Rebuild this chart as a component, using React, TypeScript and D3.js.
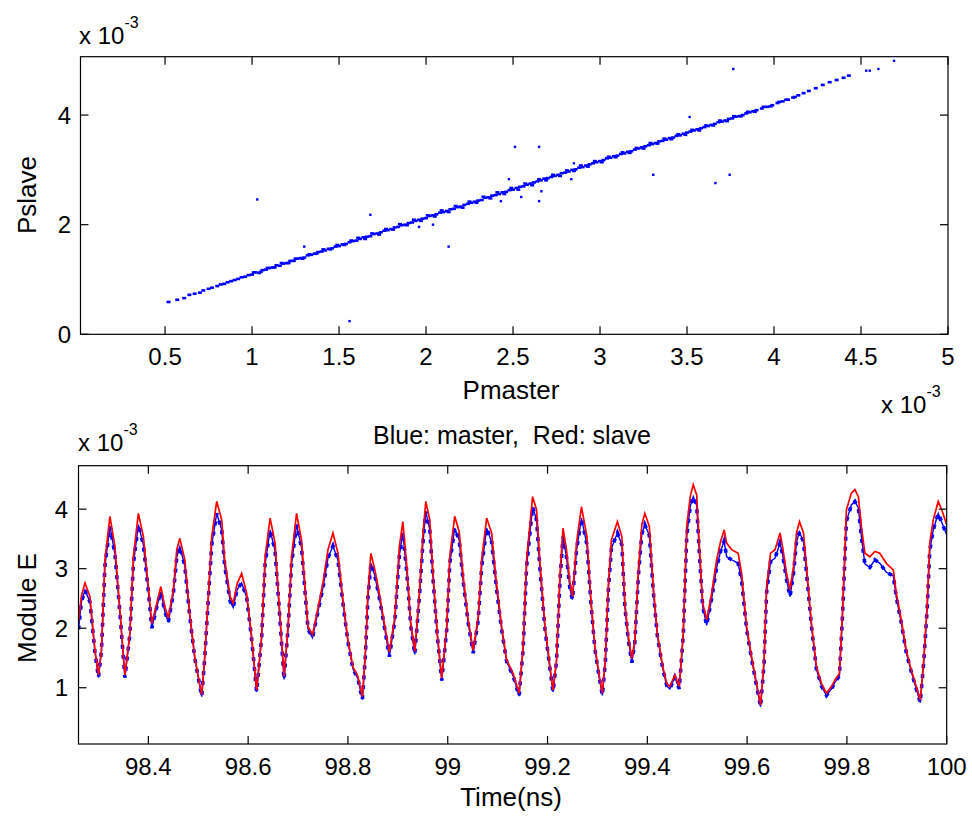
import React from "react";
import * as d3 from "d3";

// ---------- Top panel: Pslave vs Pmaster (x 10^-3) ----------
const pmasterBand = [
  0.52, 0.57, 0.61, 0.64, 0.67, 0.70, 0.72, 0.75, 0.77, 0.80, 0.82, 0.84, 0.86, 0.88, 0.90, 0.92, 0.94, 0.96, 0.98, 1.00,
  1.02, 1.04, 1.06, 1.08, 1.10, 1.12, 1.14, 1.16, 1.18, 1.20, 1.22, 1.24, 1.26, 1.28, 1.30, 1.32, 1.34, 1.36, 1.38, 1.40,
  1.42, 1.44, 1.46, 1.48, 1.50, 1.52, 1.54, 1.56, 1.58, 1.60, 1.62, 1.64, 1.66, 1.68, 1.70, 1.72, 1.74, 1.76, 1.78, 1.80,
  1.82, 1.84, 1.86, 1.88, 1.90, 1.92, 1.94, 1.96, 1.98, 2.00, 2.02, 2.04, 2.06, 2.08, 2.10, 2.12, 2.14, 2.16, 2.18, 2.20,
  2.22, 2.24, 2.26, 2.28, 2.30, 2.32, 2.34, 2.36, 2.38, 2.40, 2.42, 2.44, 2.46, 2.48, 2.50, 2.52, 2.54, 2.56, 2.58, 2.60,
  2.62, 2.64, 2.66, 2.68, 2.70, 2.72, 2.74, 2.76, 2.78, 2.80, 2.82, 2.84, 2.86, 2.88, 2.90, 2.92, 2.94, 2.96, 2.98, 3.00,
  3.02, 3.04, 3.06, 3.08, 3.10, 3.12, 3.14, 3.16, 3.18, 3.20, 3.22, 3.24, 3.26, 3.28, 3.30, 3.32, 3.34, 3.36, 3.38, 3.40,
  3.42, 3.44, 3.46, 3.48, 3.50, 3.52, 3.54, 3.56, 3.58, 3.60, 3.62, 3.64, 3.66, 3.68, 3.70, 3.72, 3.74, 3.76, 3.78, 3.80,
  3.82, 3.84, 3.86, 3.88, 3.90, 3.93, 3.96, 3.99, 4.02, 4.05, 4.08, 4.11, 4.14, 4.17, 4.20, 4.24, 4.28, 4.32, 4.36, 4.40,
  4.43,
];
const pslaveBand = [
  0.59, 0.63, 0.66, 0.72, 0.74, 0.76, 0.80, 0.83, 0.85, 0.88, 0.91, 0.92, 0.95, 0.97, 0.99, 1.01, 1.04, 1.05, 1.08, 1.09,
  1.13, 1.12, 1.17, 1.18, 1.21, 1.22, 1.26, 1.25, 1.29, 1.30, 1.34, 1.34, 1.38, 1.39, 1.40, 1.44, 1.45, 1.47, 1.50, 1.51,
  1.53, 1.56, 1.57, 1.60, 1.61, 1.64, 1.65, 1.68, 1.70, 1.71, 1.74, 1.77, 1.78, 1.79, 1.83, 1.84, 1.86, 1.89, 1.90, 1.92,
  1.95, 1.96, 1.99, 2.00, 2.03, 2.04, 2.07, 2.09, 2.11, 2.12, 2.16, 2.17, 2.19, 2.22, 2.23, 2.25, 2.28, 2.29, 2.32, 2.33,
  2.36, 2.38, 2.40, 2.42, 2.44, 2.45, 2.49, 2.50, 2.53, 2.54, 2.56, 2.59, 2.60, 2.63, 2.64, 2.67, 2.69, 2.70, 2.73, 2.75,
  2.77, 2.79, 2.81, 2.84, 2.85, 2.87, 2.89, 2.91, 2.94, 2.95, 2.97, 3.00, 3.01, 3.04, 3.05, 3.08, 3.10, 3.12, 3.14, 3.16,
  3.18, 3.21, 3.22, 3.25, 3.26, 3.29, 3.30, 3.33, 3.34, 3.37, 3.39, 3.41, 3.43, 3.45, 3.47, 3.49, 3.52, 3.53, 3.55, 3.58,
  3.59, 3.62, 3.63, 3.66, 3.68, 3.70, 3.72, 3.74, 3.76, 3.78, 3.80, 3.82, 3.84, 3.87, 3.88, 3.90, 3.93, 3.94, 3.97, 3.98,
  4.00, 4.03, 4.05, 4.07, 4.09, 4.12, 4.15, 4.18, 4.22, 4.25, 4.28, 4.32, 4.36, 4.40, 4.44, 4.49, 4.55, 4.60, 4.64, 4.68,
  4.72,
];
const pmasterBand2 = [
  1.01, 1.05, 1.09, 1.13, 1.17, 1.21, 1.25, 1.29, 1.33, 1.37, 1.41, 1.45, 1.49, 1.53, 1.57,
  1.61, 1.65, 1.69, 1.73, 1.77, 1.81, 1.85, 1.89, 1.93, 1.97, 2.01, 2.05, 2.09, 2.13, 2.17, 2.21, 2.25, 2.29, 2.33, 2.37,
  2.41, 2.45, 2.49, 2.53, 2.57, 2.61, 2.65, 2.69, 2.73, 2.77, 2.81, 2.85, 2.89, 2.93, 2.97, 3.01, 3.05, 3.09, 3.13, 3.17,
  3.21, 3.25, 3.29, 3.33, 3.37, 3.41, 3.45, 3.49, 3.53, 3.57, 3.61, 3.65,
  3.69, 3.73, 3.77, 3.81, 3.85, 3.89, 3.94, 3.98, 4.03, 4.07, 4.12,
];
const pslaveBand2 = [
  1.13, 1.14, 1.21, 1.22, 1.30, 1.30, 1.38, 1.38, 1.46, 1.47, 1.55, 1.55, 1.63, 1.63, 1.71,
  1.76, 1.74, 1.84, 1.82, 1.92, 1.91, 2.01, 1.99, 2.09, 2.07, 2.17, 2.15, 2.26, 2.23, 2.34, 2.31, 2.42, 2.40, 2.51, 2.48,
  2.59, 2.56, 2.67, 2.64, 2.75, 2.72, 2.83, 2.81, 2.91, 2.89, 2.99, 2.98, 3.08, 3.06, 3.16, 3.14, 3.24, 3.23, 3.32, 3.31,
  3.40, 3.39, 3.49, 3.48, 3.57, 3.56, 3.65, 3.64, 3.73, 3.72, 3.81, 3.81,
  3.90, 3.89, 3.98, 3.98, 4.06, 4.06, 4.15, 4.16, 4.24, 4.28, 4.33,
];
const pmasterOutliers = [
  4.53, 4.55, 4.60, 4.69, 3.766, 3.515, 2.511, 2.65, 2.476, 2.835, 2.85, 3.306, 3.663, 3.745, 2.547, 2.663, 2.65, 2.43,
  1.96, 2.04, 2.13, 1.56, 1.03, 1.30, 1.68,
];
const pslaveOutliers = [
  4.81, 4.81, 4.84, 4.99, 4.84, 3.965, 3.42, 3.42, 2.83, 2.83, 3.12, 2.91, 2.76, 2.91, 2.505, 2.61, 2.43, 2.43,
  1.96, 2.0, 1.6, 0.24, 2.46, 1.60, 2.18,
];
const topXTicks = [0.5, 1, 1.5, 2, 2.5, 3, 3.5, 4, 4.5, 5];
const topXTickLabels = ["0.5", "1", "1.5", "2", "2.5", "3", "3.5", "4", "4.5", "5"];
const topYTicks = [0, 2, 4];
const topYTickLabels = ["0", "2", "4"];

// ---------- Bottom panel: Module E vs Time (ns) ----------
const timeNs = [
  98.26, 98.266, 98.273, 98.283, 98.293, 98.3, 98.306, 98.313, 98.323, 98.333, 98.343, 98.353, 98.363, 98.37, 98.38,
  98.39, 98.4, 98.407, 98.417, 98.425, 98.433, 98.44, 98.45, 98.457, 98.463, 98.473, 98.483, 98.493, 98.5, 98.507,
  98.513, 98.52, 98.527, 98.537, 98.547, 98.553, 98.564, 98.57, 98.578, 98.587, 98.597, 98.607, 98.617, 98.627, 98.634,
  98.644, 98.654, 98.662, 98.672, 98.68, 98.687, 98.697, 98.707, 98.714, 98.72, 98.729, 98.74, 98.75, 98.76, 98.77,
  98.78, 98.79, 98.8, 98.81, 98.82, 98.829, 98.835, 98.84, 98.846, 98.854, 98.864, 98.874, 98.883, 98.894, 98.903,
  98.91, 98.918, 98.926, 98.934, 98.943, 98.95, 98.956, 98.964, 98.971, 98.979, 98.988, 98.998, 99.004, 99.014, 99.023,
  99.031, 99.041, 99.051, 99.061, 99.068, 99.078, 99.088, 99.097, 99.108, 99.118, 99.131, 99.143, 99.151, 99.158, 99.17,
  99.178, 99.185, 99.195, 99.205, 99.211, 99.218, 99.225, 99.231, 99.238, 99.245, 99.25, 99.258, 99.268, 99.279, 99.287,
  99.295, 99.304, 99.31, 99.316, 99.322, 99.328, 99.34, 99.349, 99.355, 99.362, 99.369, 99.375, 99.382, 99.389, 99.395,
  99.404, 99.412, 99.42, 99.431, 99.439, 99.445, 99.455, 99.464, 99.472, 99.479, 99.486, 99.492, 99.499, 99.504, 99.511,
  99.519, 99.529, 99.539, 99.547, 99.554, 99.559, 99.569, 99.582, 99.589, 99.599, 99.609, 99.619, 99.627, 99.634, 99.639,
  99.647, 99.656, 99.666, 99.671, 99.679, 99.686, 99.693, 99.699, 99.705, 99.713, 99.719, 99.729, 99.739, 99.749, 99.759,
  99.769, 99.776, 99.785, 99.791, 99.799, 99.809, 99.816, 99.823, 99.829, 99.836, 99.846, 99.856, 99.866, 99.879, 99.893,
  99.899, 99.909, 99.919, 99.929, 99.939, 99.947, 99.954, 99.961, 99.966, 99.973, 99.983, 99.99, 100.0,
];
const slaveE = [
  2.10, 2.55, 2.76, 2.53, 1.63, 1.21, 1.63, 3.15, 3.88, 3.37, 2.31, 1.21, 1.92, 3.20, 3.93,
  3.54, 2.70, 2.08, 2.42, 2.70, 2.36, 2.17, 2.64, 3.32, 3.51, 3.15, 2.25, 1.52, 1.19, 0.88,
  1.52, 2.53, 3.54, 4.13, 3.82, 3.15, 2.53, 2.42, 2.75, 2.92, 2.59, 1.86, 0.96, 1.86, 3.20,
  3.85, 3.43, 2.42, 1.19, 2.03, 3.20, 3.93, 3.48, 2.70, 2.03, 1.89, 2.34, 2.76, 3.32, 3.60,
  3.26, 2.48, 1.80, 1.35, 1.19, 0.85, 1.60, 2.60, 3.26, 2.98, 2.53, 2.03, 1.60, 2.19, 3.37,
  3.79, 3.04, 2.08, 1.61, 2.59, 3.54, 4.13, 3.82, 2.87, 1.92, 1.16, 2.03, 3.20, 3.88, 3.62,
  2.87, 2.14, 1.63, 2.19, 3.15, 3.85, 3.60, 2.81, 2.03, 1.47, 1.24, 0.91, 1.69, 3.15, 4.21,
  3.99, 3.09, 2.03, 1.35, 0.96, 1.47, 2.92, 3.68, 3.32, 2.76, 2.53, 3.43, 4.04, 3.54, 2.48,
  1.69, 1.19, 0.91, 1.50, 2.76, 3.48, 3.79, 3.54, 2.42, 1.86, 1.49, 1.80, 2.98, 3.74, 3.93,
  3.71, 2.70, 1.92, 1.35, 1.07, 1.02, 1.21, 1.02, 1.92, 3.71, 4.21, 4.41, 4.24, 3.43, 2.42,
  2.14, 2.59, 3.15, 3.46, 3.65, 3.43, 3.32, 3.26, 2.92, 2.03, 1.52, 1.07, 0.71, 1.47, 2.70,
  3.26, 3.32, 3.60, 3.37, 2.92, 2.64, 3.04, 3.60, 3.79, 3.60, 3.04, 2.08, 1.35, 1.07, 0.91,
  1.02, 1.13, 1.24, 2.25, 3.99, 4.27, 4.33, 4.21, 3.71, 3.26, 3.20, 3.29, 3.26, 3.09, 2.98,
  2.59, 2.14, 1.63, 1.30, 1.02, 0.79, 1.47, 2.42, 3.43, 3.82, 4.13, 3.99, 3.74,
];
const masterE = [
  1.98, 2.45, 2.64, 2.44, 1.60, 1.17, 1.62, 3.05, 3.71, 3.25, 2.26, 1.17, 1.90, 3.08, 3.74,
  3.40, 2.62, 2.00, 2.36, 2.61, 2.28, 2.10, 2.58, 3.20, 3.37, 3.05, 2.20, 1.50, 1.17, 0.85,
  1.50, 2.47, 3.40, 3.93, 3.65, 3.05, 2.45, 2.35, 2.65, 2.76, 2.52, 1.82, 0.93, 1.84, 3.08,
  3.65, 3.30, 2.36, 1.14, 2.00, 3.08, 3.74, 3.35, 2.62, 1.98, 1.84, 2.28, 2.68, 3.18, 3.38,
  3.14, 2.42, 1.77, 1.32, 1.15, 0.80, 1.55, 2.50, 3.09, 2.88, 2.46, 1.98, 1.52, 2.13, 3.22,
  3.60, 2.94, 2.03, 1.56, 2.51, 3.40, 3.96, 3.66, 2.78, 1.88, 1.12, 1.98, 3.08, 3.68, 3.48,
  2.78, 2.09, 1.58, 2.13, 3.03, 3.68, 3.45, 2.72, 1.98, 1.44, 1.20, 0.86, 1.64, 3.03, 4.04,
  3.82, 2.98, 1.98, 1.31, 0.93, 1.44, 2.82, 3.54, 3.20, 2.66, 2.48, 3.30, 3.85, 3.40, 2.42,
  1.65, 1.15, 0.87, 1.46, 2.66, 3.34, 3.60, 3.40, 2.36, 1.80, 1.42, 1.76, 2.88, 3.58, 3.74,
  3.56, 2.62, 1.88, 1.32, 1.03, 0.98, 1.18, 0.98, 1.88, 3.55, 4.05, 4.21, 4.06, 3.30, 2.36,
  2.05, 2.50, 3.02, 3.30, 3.46, 3.20, 3.15, 3.09, 2.80, 1.98, 1.48, 1.03, 0.68, 1.42, 2.60,
  3.12, 3.18, 3.43, 3.24, 2.82, 2.53, 2.92, 3.45, 3.62, 3.45, 2.94, 2.03, 1.31, 1.03, 0.87,
  0.98, 1.09, 1.20, 2.18, 3.80, 4.07, 4.13, 4.02, 3.54, 3.08, 3.02, 3.15, 3.09, 2.94, 2.88,
  2.52, 2.09, 1.59, 1.27, 0.98, 0.75, 1.43, 2.35, 3.30, 3.65, 3.93, 3.78, 3.57,
];
const botXTicks = [98.4, 98.6, 98.8, 99, 99.2, 99.4, 99.6, 99.8, 100];
const botXTickLabels = ["98.4", "98.6", "98.8", "99", "99.2", "99.4", "99.6", "99.8", "100"];
const botYTicks = [1, 2, 3, 4];
const botYTickLabels = ["1", "2", "3", "4"];

const FONT = "'Liberation Sans', Arial, Helvetica, sans-serif";
const TICK = 8;

type Box = { l: number; r: number; t: number; b: number };

function Frame({ box, xs, ys, xTicks, yTicks }: { box: Box; xs: any; ys: any; xTicks: number[]; yTicks: number[] }) {
  return (
    <g stroke="#000" strokeWidth={1.2} fill="none">
      <rect x={box.l} y={box.t} width={box.r - box.l} height={box.b - box.t} />
      {xTicks.map((v, i) => (
        <g key={"xt" + i}>
          <line x1={xs(v)} x2={xs(v)} y1={box.b} y2={box.b - TICK} />
          <line x1={xs(v)} x2={xs(v)} y1={box.t} y2={box.t + TICK} />
        </g>
      ))}
      {yTicks.map((v, i) => (
        <g key={"yt" + i}>
          <line x1={box.l} x2={box.l + TICK} y1={ys(v)} y2={ys(v)} />
          <line x1={box.r} x2={box.r - TICK} y1={ys(v)} y2={ys(v)} />
        </g>
      ))}
    </g>
  );
}

export default function App() {
  const topBox: Box = { l: 80.5, r: 948, t: 56.7, b: 334.3 };
  const botBox: Box = { l: 78.5, r: 946.7, t: 465.7, b: 744 };

  const xTop = d3.scaleLinear().domain([0.014, 5]).range([topBox.l, topBox.r]);
  const yTop = d3.scaleLinear().domain([0, 5.065]).range([topBox.b, topBox.t]);
  const xBot = d3.scaleLinear().domain([98.26, 100]).range([botBox.l, botBox.r]);
  const yBot = d3.scaleLinear().domain([0.055, 4.73]).range([botBox.b, botBox.t]);

  const bandPts: [number, number][] = [];
  pmasterBand.forEach((v, i) => bandPts.push([v, pslaveBand[i]]));
  pmasterBand2.forEach((v, i) => bandPts.push([v, pslaveBand2[i]]));
  const outPts: [number, number][] = pmasterOutliers.map((v, i) => [v, pslaveOutliers[i]]);

  const line = d3
    .line<number>()
    .x((_, i) => xBot(timeNs[i]))
    .y((d) => yBot(d));
  const bluePath = line(masterE) || "";
  const redPath = line(slaveE) || "";

  const txt = { fontFamily: FONT, fill: "#000" } as const;

  return (
    <svg width={972} height={821} style={{ position: "absolute", left: 0, top: 0, background: "#fff" }}>
      <rect x={0} y={0} width={972} height={821} fill="#fff" />
      <defs>
        <clipPath id="clipBot">
          <rect x={botBox.l} y={botBox.t} width={botBox.r - botBox.l} height={botBox.b - botBox.t} />
        </clipPath>
      </defs>

      {/* ---------- top panel ---------- */}
      <g fill="#0000ff">
        {bandPts.map((p, i) => (
          <rect key={"b" + i} x={xTop(p[0]) - 2} y={yTop(p[1]) - 1.3} width={4} height={2.6} />
        ))}
        {outPts.map((p, i) => (
          <rect key={"o" + i} x={xTop(p[0]) - 1.2} y={yTop(p[1]) - 1.2} width={2.4} height={2.4} />
        ))}
      </g>
      <Frame box={topBox} xs={xTop} ys={yTop} xTicks={topXTicks} yTicks={topYTicks} />
      {topXTicks.map((v, i) => (
        <text key={"tx" + i} x={xTop(v)} y={365} textAnchor="middle" fontSize={24} {...txt}>
          {topXTickLabels[i]}
        </text>
      ))}
      {topYTicks.map((v, i) => (
        <text key={"ty" + i} x={71} y={yTop(v) + 8.5} textAnchor="end" fontSize={24} {...txt}>
          {topYTickLabels[i]}
        </text>
      ))}
      <text x={511} y={399} textAnchor="middle" fontSize={26} {...txt}>Pmaster</text>
      <text transform="translate(36,195) rotate(-90)" textAnchor="middle" fontSize={26} {...txt}>Pslave</text>
      <text x={79} y={44} fontSize={24} {...txt}>
        x 10<tspan dy={-16} fontSize={16}>-3</tspan>
      </text>
      <text x={881} y={413} fontSize={24} {...txt}>
        x 10<tspan dy={-16} fontSize={16}>-3</tspan>
      </text>

      {/* ---------- bottom panel ---------- */}
      <text x={512} y={444} textAnchor="middle" fontSize={25} {...txt}>
        {"Blue: master,\u00a0\u00a0Red: slave"}
      </text>
      <g clipPath="url(#clipBot)" fill="none">
        <path d={bluePath} stroke="#0000ff" strokeWidth={1.4} />
        <path d={bluePath} stroke="#0000ff" strokeWidth={3.6} strokeDasharray="4 6" />
        <path d={redPath} stroke="#ff0000" strokeWidth={1.7} />
      </g>
      <Frame box={botBox} xs={xBot} ys={yBot} xTicks={botXTicks} yTicks={botYTicks} />
      {botXTicks.map((v, i) => (
        <text key={"bx" + i} x={xBot(v)} y={775} textAnchor="middle" fontSize={24} {...txt}>
          {botXTickLabels[i]}
        </text>
      ))}
      {botYTicks.map((v, i) => (
        <text key={"by" + i} x={68} y={yBot(v) + 8.5} textAnchor="end" fontSize={24} {...txt}>
          {botYTickLabels[i]}
        </text>
      ))}
      <text x={511} y={806} textAnchor="middle" fontSize={26} {...txt}>Time(ns)</text>
      <text transform="translate(36,608) rotate(-90)" textAnchor="middle" fontSize={26} {...txt}>Module E</text>
      <text x={78} y={451} fontSize={24} {...txt}>
        x 10<tspan dy={-16} fontSize={16}>-3</tspan>
      </text>
    </svg>
  );
}
